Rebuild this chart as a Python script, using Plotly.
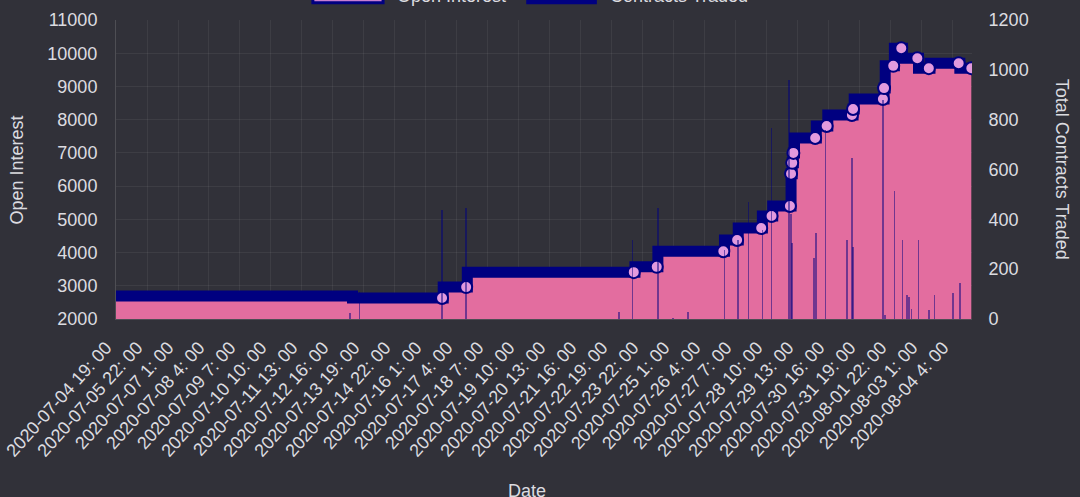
import plotly.graph_objects as go
from datetime import datetime, timedelta

# ---- data ----
tick_labels = [
    "2020-07-04 19: 00", "2020-07-05 22: 00", "2020-07-07 1: 00", "2020-07-08 4: 00",
    "2020-07-09 7: 00", "2020-07-10 10: 00", "2020-07-11 13: 00", "2020-07-12 16: 00",
    "2020-07-13 19: 00", "2020-07-14 22: 00", "2020-07-16 1: 00", "2020-07-17 4: 00",
    "2020-07-18 7: 00", "2020-07-19 10: 00", "2020-07-20 13: 00", "2020-07-21 16: 00",
    "2020-07-22 19: 00", "2020-07-23 22: 00", "2020-07-25 1: 00", "2020-07-26 4: 00",
    "2020-07-27 7: 00", "2020-07-28 10: 00", "2020-07-29 13: 00", "2020-07-30 16: 00",
    "2020-07-31 19: 00", "2020-08-01 22: 00", "2020-08-03 1: 00", "2020-08-04 4: 00",
]

# open interest: time at which each level starts, and the level
oi_times = [
    "2020-07-04 19:00", "2020-07-13 09:00", "2020-07-16 16:00", "2020-07-17 13:00",
    "2020-07-23 15:00", "2020-07-24 11:00", "2020-07-26 21:00", "2020-07-27 09:00",
    "2020-07-28 06:00", "2020-07-28 15:00", "2020-07-29 07:00", "2020-07-29 08:00",
    "2020-07-29 09:00", "2020-07-29 10:00", "2020-07-30 05:00", "2020-07-30 15:00",
    "2020-07-31 13:00", "2020-07-31 14:00", "2020-08-01 16:00", "2020-08-01 17:00",
    "2020-08-02 01:00", "2020-08-02 08:00", "2020-08-02 22:00", "2020-08-03 08:00",
    "2020-08-04 10:00", "2020-08-04 20:00",
]
oi_values = [
    2690, 2630, 2960, 3410,
    3570, 4040, 4380, 4740,
    5100, 5400, 6370, 6700,
    7000, 7450, 7810, 8140,
    8320, 8620, 8950, 9620,
    10150, 9850, 9550, 9700,
    9550, 9550,
]

# contracts traded (hours with trades)
trade_times = [
    "2020-07-13 07:00", "2020-07-13 15:00", "2020-07-16 15:00", "2020-07-17 12:00",
    "2020-07-23 01:00", "2020-07-23 13:00", "2020-07-24 11:00", "2020-07-25 00:00",
    "2020-07-25 13:00", "2020-07-26 21:00", "2020-07-27 09:00", "2020-07-27 18:00",
    "2020-07-28 06:00", "2020-07-28 14:00", "2020-07-29 05:00", "2020-07-29 07:00",
    "2020-07-29 08:00", "2020-07-30 03:00", "2020-07-30 05:00", "2020-07-30 13:00",
    "2020-07-31 08:00", "2020-07-31 12:00", "2020-07-31 13:00", "2020-08-01 15:00",
    "2020-08-01 17:00", "2020-08-02 01:00", "2020-08-02 08:00", "2020-08-02 12:00",
    "2020-08-02 14:00", "2020-08-02 16:00", "2020-08-02 22:00", "2020-08-03 07:00",
    "2020-08-03 12:00", "2020-08-04 04:00", "2020-08-04 10:00",
]
trade_values = [
    24, 110, 437, 445,
    28, 317, 445, 6,
    28, 277, 317, 470,
    357, 766, 960, 420,
    305, 245, 345, 757,
    317, 646, 290, 880,
    15, 515, 317, 95,
    90, 40, 317, 35,
    95, 104, 144,
]

# ---- styling ----
BG = "#313139"
PINK = "#e36d9f"
NAVY = "#000080"
DOT = "#e29ade"
TXT = "#dcdce0"
FONT = "Liberation Sans, Arial, sans-serif"

fmt = "%Y-%m-%d %H:%M"
oi_dt = [datetime.strptime(t, fmt) for t in oi_times]
# highlighted points: last hour of each level before a change
hl_x, hl_y = [], []
for i in range(1, len(oi_dt)):
    if i == len(oi_dt) - 1:
        hl_x.append(oi_dt[i]); hl_y.append(oi_values[i])
    elif abs(oi_values[i] - oi_values[i - 1]) >= 100:
        hl_x.append(oi_dt[i] - timedelta(hours=1)); hl_y.append(oi_values[i - 1])

tick_vals = [datetime.strptime(s.replace(": ", ":"), "%Y-%m-%d %H:%M") for s in tick_labels]

fig = go.Figure()
fig.add_trace(go.Scatter(
    x=oi_dt, y=oi_values, name="Open Interest", mode="lines",
    line=dict(color=NAVY, width=11, shape="hv"),
    fill="tozeroy", fillcolor=PINK, yaxis="y", hoverinfo="skip",
))
fig.add_trace(go.Scatter(
    x=hl_x, y=hl_y, mode="markers", showlegend=False, yaxis="y",
    marker=dict(size=12, color=DOT, line=dict(color=NAVY, width=2)),
))
fig.add_trace(go.Bar(
    x=[datetime.strptime(t, fmt) for t in trade_times], y=trade_values,
    name="Contracts Traded", yaxis="y2",
    marker=dict(color="rgba(0,0,128,0.5)", line=dict(width=0)),
    width=5400000,
))

grid = "rgba(255,255,255,0.06)"
axline = "rgba(255,255,255,0.14)"
fig.update_layout(
    width=1080, height=497,
    paper_bgcolor=BG, plot_bgcolor=BG,
    font=dict(family=FONT, size=18, color=TXT),
    margin=dict(l=116, r=108, t=20, b=178, autoexpand=False),
    showlegend=False,
    bargap=0,
    xaxis=dict(
        type="date", automargin=False,
        range=[datetime(2020, 7, 4, 19, 0), datetime(2020, 8, 4, 20, 36)],
        tickvals=tick_vals, ticktext=tick_labels, tickangle=-48,
        tickfont=dict(size=18, color=TXT),
        ticklabelshift=-10, ticklabelstandoff=4,
        showgrid=True, gridcolor=grid, showline=True, linecolor=axline,
        ticks="outside", ticklen=6, tickcolor="rgba(0,0,0,0)", zeroline=False,
    ),
    yaxis=dict(
        range=[2000, 11000], dtick=1000, tickformat="d", automargin=False,
        tickfont=dict(size=18, color=TXT),
        showgrid=True, gridcolor=grid, showline=True, linecolor=axline,
        ticks="outside", ticklen=14, tickcolor="rgba(0,0,0,0)", zeroline=False,
    ),
    yaxis2=dict(
        overlaying="y", side="right", range=[0, 1200], dtick=200, automargin=False,
        tickfont=dict(size=18, color=TXT), showgrid=False, zeroline=False,
        ticks="outside", ticklen=12, tickcolor="rgba(0,0,0,0)", showline=False,
    ),
)

# axis titles
fig.add_annotation(text="Open Interest", xref="paper", yref="paper", x=-0.1157, y=0.5,
                   textangle=-90, showarrow=False, font=dict(size=18, color=TXT),
                   xanchor="center", yanchor="middle")
fig.add_annotation(text="Total Contracts Traded", xref="paper", yref="paper", x=1.106, y=0.5,
                   textangle=90, showarrow=False, font=dict(size=18, color=TXT),
                   xanchor="center", yanchor="middle")
fig.add_annotation(text="Date", xref="paper", yref="paper", x=0.48, y=-0.575,
                   showarrow=False, font=dict(size=18, color=TXT),
                   xanchor="center", yanchor="middle")

# legend (cut at the top edge, as in the reference)
fig.add_shape(type="rect", xref="paper", yref="paper", x0=0.230, x1=0.312, y0=1.058, y1=1.14,
              fillcolor="#c87fd0", line=dict(color=NAVY, width=3))
fig.add_shape(type="rect", xref="paper", yref="paper", x0=0.481, x1=0.560, y0=1.058, y1=1.14,
              fillcolor=NAVY, line=dict(color=NAVY, width=3))
fig.add_annotation(text="Open Interest", xref="paper", yref="paper", x=0.326, y=1.081,
                   showarrow=False, xanchor="left", yanchor="middle",
                   font=dict(size=18, color=TXT))
fig.add_annotation(text="Contracts Traded", xref="paper", yref="paper", x=0.575, y=1.081,
                   showarrow=False, xanchor="left", yanchor="middle",
                   font=dict(size=18, color=TXT))

fig.write_html(
    "out.html",
    config={"displayModeBar": False},
    post_script="document.documentElement.style.background='#313139';"
                "document.body.style.margin='0';document.body.style.background='#313139';"
                "document.body.style.overflow='hidden';",
)
